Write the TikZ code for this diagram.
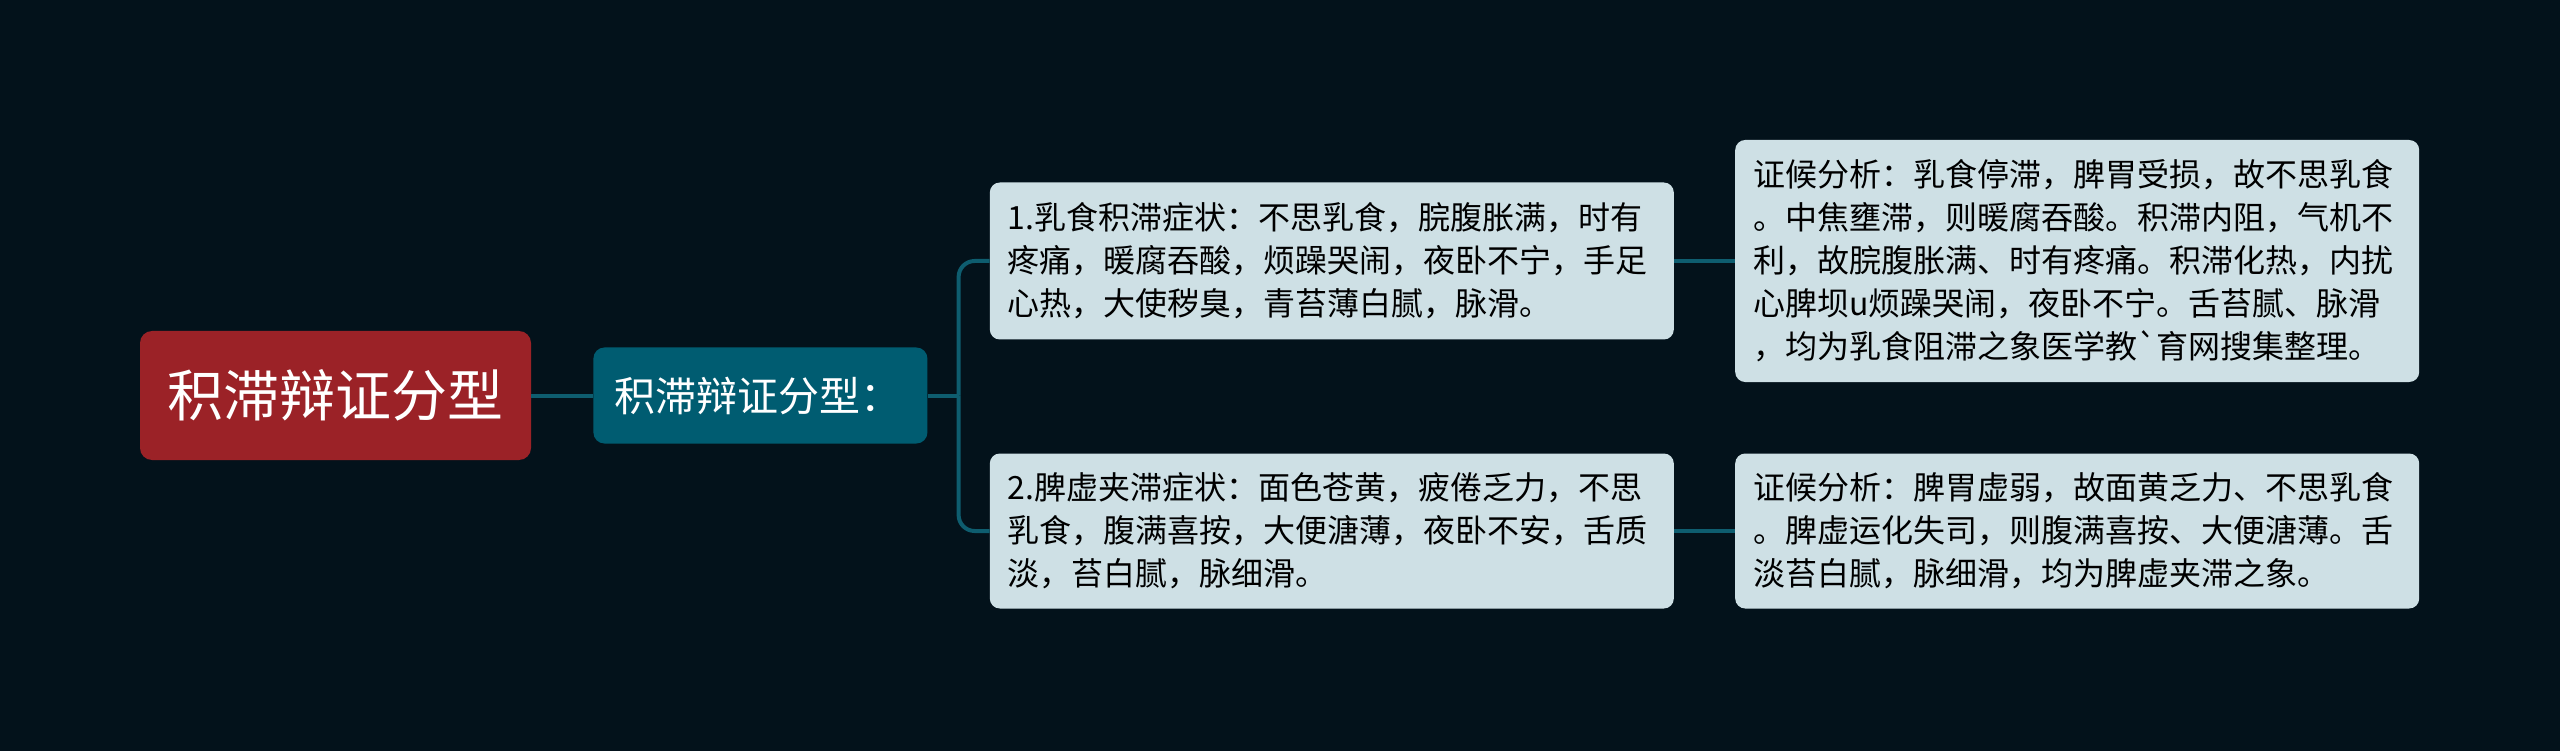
\documentclass[tikz,border=0pt]{standalone}
\usepackage{fontspec}
\newfontfamily\cjk{Noto Sans CJK SC}
\usetikzlibrary{positioning}
\definecolor{bgcol}{HTML}{03121B}
\definecolor{rootcol}{HTML}{9B2227}
\definecolor{topiccol}{HTML}{005C71}
\definecolor{leafcol}{HTML}{CEE0E5}
\definecolor{linkcol}{HTML}{0E5D6F}

\begin{document}
\begin{tikzpicture}[x=1pt,y=1pt,node distance=62pt,
	root node/.style={fill=rootcol,rounded corners=12pt,minimum width=391pt,minimum height=129pt,
		text=white,font=\cjk\fontsize{56}{60}\selectfont},
	topic node/.style={fill=topiccol,rounded corners=11pt,text width=292pt,inner xsep=21pt,align=left,
		minimum height=96pt,text=white,font=\cjk\fontsize{41}{46}\selectfont},
	leaf node/.style={fill=leafcol,rounded corners=10pt,text width=648pt,inner xsep=18pt,align=left,
		text=black,font=\cjk\fontsize{32}{43}\selectfont},
	link/.style={draw=linkcol,line width=4pt}]

	\fill[bgcol] (0,0) rectangle (2560,-751);

	\node[root node] (r) at (335.5,-395.5) {积滞辩证分型};
	\node[topic node] (t) [right=of r] {积滞辩证分型：};
	\coordinate[right=31pt of t] (f);

	\node[leaf node,minimum height=157pt] (s1) [right=of t,yshift=134.5pt]
	{1.乳食积滞症状：不思乳食，脘腹胀满，时有\\疼痛，暖腐吞酸，烦躁哭闹，夜卧不宁，手足\\心热，大使秽臭，青苔薄白腻，脉滑。};
	\node[leaf node,minimum height=155pt] (s2) [right=of t,yshift=-135.5pt]
	{2.脾虚夹滞症状：面色苍黄，疲倦乏力，不思\\乳食，腹满喜按，大便溏薄，夜卧不安，舌质\\淡，苔白腻，脉细滑。};

	\node[leaf node,minimum height=242pt] (e1) [right=61pt of s1]
	{证候分析：乳食停滞，脾胃受损，故不思乳食\\。中焦壅滞，则暖腐吞酸。积滞内阻，气机不\\利，故脘腹胀满、时有疼痛。积滞化热，内扰\\心脾坝u烦躁哭闹，夜卧不宁。舌苔腻、脉滑\\，均为乳食阻滞之象医学教`育网搜集整理。};
	\node[leaf node,minimum height=155pt] (e2) [right=61pt of s2]
	{证候分析：脾胃虚弱，故面黄乏力、不思乳食\\。脾虚运化失司，则腹满喜按、大便溏薄。舌\\淡苔白腻，脉细滑，均为脾虚夹滞之象。};

	\path[link] (r) edge (t)
	(t.east) edge (f)
	(s1.east) edge (e1.west)
	(s2.east) edge (e2.west);
	\draw[link,rounded corners=16pt] (f) |- (s1.west);
	\draw[link,rounded corners=16pt] (f) |- (s2.west);
\end{tikzpicture}
\end{document}
